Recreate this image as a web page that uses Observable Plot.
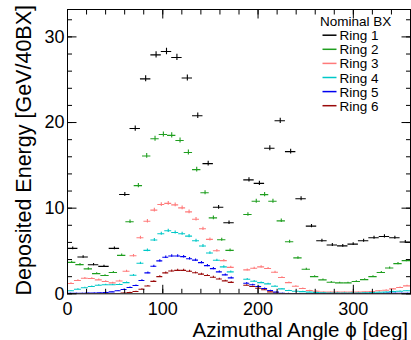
<!DOCTYPE html>
<html><head><meta charset="utf-8">
<script src="https://cdn.jsdelivr.net/npm/d3@7"></script>
<script src="https://cdn.jsdelivr.net/npm/@observablehq/plot@0.6"></script>
<style>body{margin:0;background:#fff;} svg{display:block;}</style>
</head><body><div id="chart"></div>
<script>
// ---- data ----
const ringNames = ["Ring 1", "Ring 2", "Ring 3", "Ring 4", "Ring 5", "Ring 6"];
const ringColors = ["#000000", "#1f9e1f", "#ff7a7a", "#00c8c8", "#0000f0", "#9a0a0a"];
const binsPerHalf = [16, 20, 24, 24, 28, 28];
const halfStarts = [0, 185];   // degrees, two half-rings
const halfSpan = 175;          // degrees covered by each half

const ring1 = [5.3, 4.3, 3.4, 3.2, 5.3, 11.6, 19.3, 25.1, 27.9, 28.3, 27.6, 25.2, 20.8, 15.2, 10.1, 8.3,
               13.3, 12.9, 17.0, 20.2, 16.6, 11.1, 7.9, 6.2, 5.7, 5.6, 5.8, 6.2, 6.55, 6.7, 6.55, 6.05];
const ring2 = [3.67, 3.41, 2.91, 2.36, 2.13, 2.48, 4.49, 8.41, 12.63, 16.1, 18.1, 18.6, 18.5, 17.9, 16.5, 14.5, 11.8, 8.87, 6.31, 5.07,
               9.26, 10.81, 11.58, 10.81, 8.52, 6.08, 4.19, 2.86, 2.01, 1.63, 1.35, 1.28, 1.28, 1.43, 1.66, 2.01, 2.48, 3.02, 3.52, 3.87];
const ring3 = [1.2, 1.55, 1.81, 1.78, 1.63, 1.43, 1.28, 1.5, 2.63, 4.45, 6.55, 8.47, 9.77, 10.42, 10.56, 10.38, 10.03, 9.57, 8.7, 7.59, 6.35, 5.03, 3.87, 3.09,
               2.79, 2.98, 3.14, 2.96, 2.51, 1.9, 1.31, 0.88, 0.62, 0.38, 0.3, 0.19, 0.19, 0.19, 0.19, 0.19, 0.19, 0.23, 0.27, 0.35, 0.42, 0.58, 0.73, 0.93];
const ring4 = [0.35, 0.53, 0.7, 0.85, 1.0, 1.05, 1.05, 1.08, 1.31, 2.16, 3.56, 5.07, 6.28, 7.01, 7.36, 7.16, 7.01, 6.74, 6.2, 5.58, 4.77, 3.91, 3.14, 2.56,
               1.7, 1.47, 1.31, 1.16, 0.88, 0.58, 0.38, 0.3, 0.25, 0.2, 0.15, 0.12, 0.1, 0.1, 0.1, 0.1, 0.1, 0.12, 0.15, 0.18, 0.2, 0.25, 0.3, 0.35];
const ring5 = [0.05, 0.05, 0.06, 0.08, 0.1, 0.12, 0.15, 0.22, 0.35, 0.5, 0.73, 0.97, 1.55, 2.44, 3.21, 3.84, 4.26, 4.42, 4.42, 4.34, 4.1, 3.93, 3.64, 3.29, 2.94, 2.56, 2.21, 1.86,
               1.23, 1.05, 0.85, 0.62, 0.38, 0.19, 0.07, 0.04, 0.03, 0.02, 0.02, 0.02, 0.02, 0.02, 0.02, 0.02, 0.02, 0.02, 0.02, 0.02, 0.02, 0.03, 0.03, 0.04, 0.05, 0.05, 0.06, 0.07];
const ring6 = [0.01, 0.01, 0.01, 0.01, 0.01, 0.01, 0.01, 0.01, 0.02, 0.1, 0.15, 0.27, 0.53, 0.91, 1.45, 2.01, 2.44, 2.67, 2.74, 2.74, 2.63, 2.45, 2.3, 2.13, 1.94, 1.73, 1.51, 1.34,
               1.0, 0.85, 0.65, 0.47, 0.23, 0.07, 0.02, 0.02, 0.02, 0.02, 0.02, 0.02, 0.02, 0.02, 0.02, 0.02, 0.02, 0.02, 0.02, 0.02, 0.02, 0.02, 0.02, 0.02, 0.02, 0.02, 0.02, 0.02];
const ringValues = [ring1, ring2, ring3, ring4, ring5, ring6];

const xTicksMajor = [0, 100, 200, 300];
const xTicksMinor = [0, 20, 40, 60, 80, 100, 120, 140, 160, 180, 200, 220, 240, 260, 280, 300, 320, 340, 360];
const yTicksMajor = [0, 10, 20, 30];
const yTicksMinor = [0, 2, 4, 6, 8, 10, 12, 14, 16, 18, 20, 22, 24, 26, 28, 30, 32];

const xTitle = "Azimuthal Angle \u03d5 [deg]";
const yTitle = "Deposited Energy [GeV/40BX]";
const legendHeader = "Nominal BX";

// ---- build rows ----
function ringRows(r) {
  const n = binsPerHalf[r];
  const w = halfSpan / n;
  return ringValues[r].map((v, j) => {
    const half = j < n ? 0 : 1;
    const i = j % n;
    const x1 = halfStarts[half] + i * w;
    return {x1, x2: x1 + w, xc: x1 + w / 2, v};
  });
}

const marks = [];
ringNames.forEach((name, r) => {
  const rows = ringRows(r);
  marks.push(Plot.ruleY(rows, {y: "v", x1: "x1", x2: "x2", stroke: ringColors[r], strokeWidth: 1.1, clip: true}));
  marks.push(Plot.ruleX(rows, {x: "xc", y1: d => d.v - 0.07 * Math.sqrt(d.v), y2: d => d.v + 0.07 * Math.sqrt(d.v),
    stroke: ringColors[r], strokeWidth: 1.1, clip: true}));
});

const plot = Plot.plot({
  width: 411, height: 340,
  marginLeft: 67, marginRight: 1, marginTop: 9, marginBottom: 46.7,
  x: {domain: [0, 360]},
  y: {domain: [0, 33.2]},
  style: {fontFamily: "'Liberation Sans', Arial, sans-serif", background: "white", color: "black"},
  marks: [
    ...marks,
    Plot.frame({stroke: "black", strokeWidth: 1}),
    // labels
    Plot.axisX(xTicksMajor, {anchor: "bottom", tickSize: 0, tickPadding: 8, fontSize: 18, label: null}),
    Plot.axisY(yTicksMajor, {anchor: "left", tickSize: 0, tickPadding: 3, fontSize: 18, label: null}),
    // inward ticks
    Plot.axisX(xTicksMajor, {anchor: "bottom", tickSize: -8.5, tickFormat: () => "", label: null}),
    Plot.axisX(xTicksMinor, {anchor: "bottom", tickSize: -4.5, tickFormat: () => "", label: null}),
    Plot.axisX(xTicksMajor, {anchor: "top", tickSize: -8.5, tickFormat: () => "", label: null}),
    Plot.axisX(xTicksMinor, {anchor: "top", tickSize: -4.5, tickFormat: () => "", label: null}),
    Plot.axisY(yTicksMajor, {anchor: "left", tickSize: -9.5, tickFormat: () => "", label: null}),
    Plot.axisY(yTicksMinor, {anchor: "left", tickSize: -5, tickFormat: () => "", label: null}),
    Plot.axisY(yTicksMajor, {anchor: "right", tickSize: -9.5, tickFormat: () => "", label: null}),
    Plot.axisY(yTicksMinor, {anchor: "right", tickSize: -5, tickFormat: () => "", label: null})
  ]
});

document.getElementById("chart").appendChild(plot);

// ---- titles and legend ----
const svg = d3.select(plot);
const font = "'Liberation Sans', Arial, sans-serif";
svg.append("text").attr("x", 408).attr("y", 337).attr("text-anchor", "end")
  .attr("font-family", font).attr("font-size", 20.5).attr("fill", "black").text(xTitle);
svg.append("text").attr("transform", "translate(31,5) rotate(-90)").attr("text-anchor", "end")
  .attr("font-family", font).attr("font-size", 21.5).attr("fill", "black").text(yTitle);

const lg = svg.append("g").attr("font-family", font).attr("font-size", 13.5).attr("fill", "black")
  .attr("text-anchor", "start");
lg.append("text").attr("x", 320).attr("y", 26).attr("text-anchor", "start").attr("font-size", 13.5).text(legendHeader);
ringNames.forEach((name, r) => {
  const yb = 40.2 + r * 14.1;
  lg.append("line").attr("x1", 322.5).attr("x2", 336.5).attr("y1", yb - 5).attr("y2", yb - 5)
    .attr("stroke", ringColors[r]).attr("stroke-width", 1.5);
  lg.append("text").attr("x", 339.5).attr("y", yb).attr("text-anchor", "start").text(name);
});
</script>
</body></html>
